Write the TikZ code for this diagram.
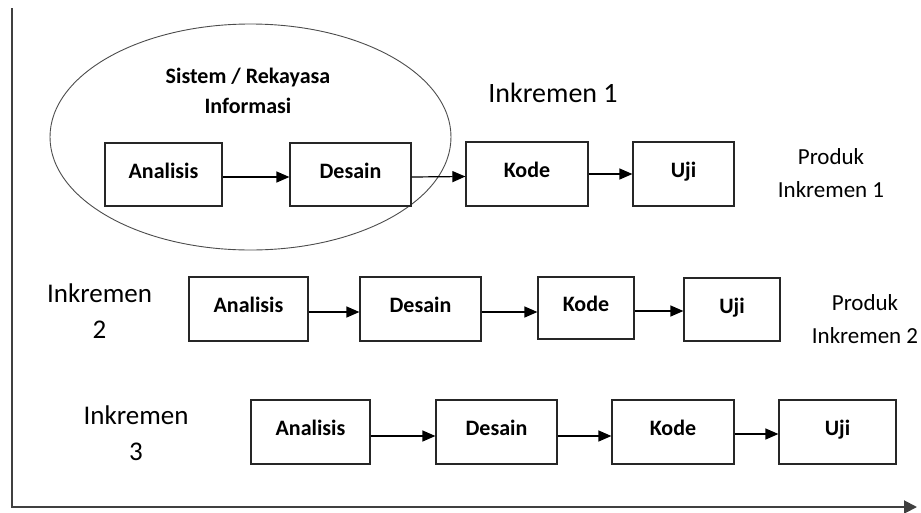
\documentclass[tikz,border=0pt]{standalone}
\usepackage{fontspec}
\setmainfont{Carlito}
\usetikzlibrary{arrows.meta,shapes.geometric}
\begin{document}
\begin{tikzpicture}[x=1pt,y=-1pt,
  stage/.style={draw=black!85, line width=1.2pt, inner sep=0pt,
    font=\bfseries\fontsize{22}{26}\selectfont, text height=15pt, text depth=8pt},
  flow/.style={line width=1.2pt, black, -{Triangle[length=13pt,width=11pt]}},
  lbl/.style={font=\fontsize{27}{36}\selectfont, align=center, inner sep=0pt},
  prod/.style={font=\fontsize{23}{33}\selectfont, align=center, inner sep=0pt},
  axis/.style={line width=2pt, black!75, -{Triangle[length=13pt,width=13pt]}}]
\useasboundingbox (0,0) rectangle (921,512);
% axes
\coordinate (top) at (12,8);
\coordinate (origin) at (12,507);
\coordinate (end) at (917,507);
\draw[axis] (top) -- (origin) -- (end);
% ellipse
\node[ellipse, draw=black!70, line width=0.9pt, minimum width=401pt, minimum height=226pt, inner sep=0pt] (sys) at (250.5,137) {};
\node[font=\bfseries\fontsize{22}{30}\selectfont, align=center, inner sep=0pt] (systxt) at (248,91) {Sistem / Rekayasa\\Informasi};
% row 1
\node[stage, minimum width=117pt, minimum height=63pt] (a1) at (163.5,174.5) {Analisis};
\node[stage, minimum width=121pt, minimum height=63pt] (d1) at (350.5,174.5) {Desain};
\node[stage, minimum width=122pt, minimum height=64pt] (k1) at (527,174) {Kode};
\node[stage, minimum width=101pt, minimum height=64pt] (u1) at (683.5,174) {Uji};
\draw[flow] ([yshift=-2.5pt]a1.east) -- ([yshift=-2.5pt]d1.west);
\draw[flow] ([yshift=-2.5pt]d1.east) -- ([yshift=-2.5pt]k1.west);
\draw[flow] (k1.east) -- (u1.west);
\node[font=\fontsize{28}{33}\selectfont, inner sep=0pt] (inc1) at (553,93) {Inkremen 1};
\node[prod] (p1) at (831,173.5) {Produk\\Inkremen 1};
% row 2
\node[stage, minimum width=119pt, minimum height=64pt] (a2) at (248.5,309) {Analisis};
\node[stage, minimum width=121pt, minimum height=64pt] (d2) at (420.5,309) {Desain};
\node[stage, minimum width=96pt, minimum height=62pt] (k2) at (586,308) {Kode};
\node[stage, minimum width=96pt, minimum height=63pt] (u2) at (732,309.5) {Uji};
\draw[flow] ([yshift=-3pt]a2.east) -- ([yshift=-3pt]d2.west);
\draw[flow] ([yshift=-3pt]d2.east) -- ([yshift=-4pt]k2.west);
\draw[flow] ([yshift=-3pt]k2.east) -- ([yshift=-1.5pt]u2.west);
\node[lbl] (inc2) at (99.5,311) {Inkremen\\2};
\node[prod] (p2) at (865,319.5) {Produk\\Inkremen 2};
% row 3
\node[stage, minimum width=119pt, minimum height=64pt] (a3) at (310.5,432) {Analisis};
\node[stage, minimum width=121pt, minimum height=64pt] (d3) at (496.5,432) {Desain};
\node[stage, minimum width=122pt, minimum height=64pt] (k3) at (673,432) {Kode};
\node[stage, minimum width=117pt, minimum height=64pt] (u3) at (837.5,432) {Uji};
\draw[flow] ([yshift=-4pt]a3.east) -- ([yshift=-4pt]d3.west);
\draw[flow] ([yshift=-4pt]d3.east) -- ([yshift=-4pt]k3.west);
\draw[flow] ([yshift=-2pt]k3.east) -- ([yshift=-2pt]u3.west);
\node[lbl] (inc3) at (136,433) {Inkremen\\3};
\end{tikzpicture}
\end{document}
